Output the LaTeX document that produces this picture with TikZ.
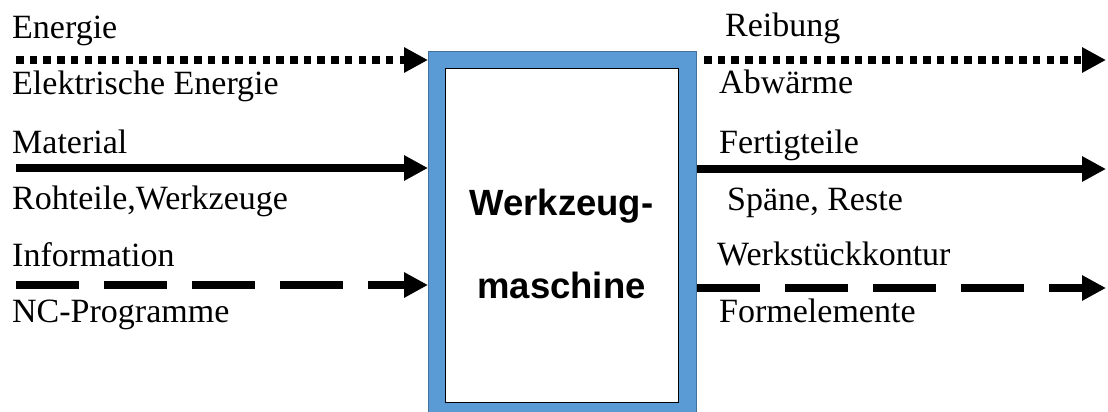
\documentclass[tikz,border=0pt]{standalone}
\usepackage{fontspec}
\setmainfont{Liberation Serif}
\newfontfamily\boxfont{Liberation Sans}
\usetikzlibrary{arrows.meta}
\definecolor{boxblue}{HTML}{5B9BD5}
\definecolor{boxedge}{HTML}{41719C}
\tikzset{
  lbl/.style={anchor=base west, inner sep=0pt, font=\fontsize{34}{37}\selectfont},
  flow/.style={line width=8pt, -{Triangle[length=24pt,width=24pt]}},
  dotflow/.style={flow, dash pattern=on 7.5pt off 6.2pt},
  dashflow/.style={flow, dash pattern=on 63pt off 25pt},
  boxtext/.style={anchor=base, inner sep=0pt, font=\boxfont\bfseries\fontsize{36.5}{40}\selectfont}
}
\begin{document}
\begin{tikzpicture}[x=1pt,y=-1pt]
\useasboundingbox (0,0) rectangle (1108,412);
% box
\node[draw=boxedge, line width=1pt, fill=boxblue, minimum width=268pt, minimum height=361pt, anchor=north west, inner sep=0pt] (box) at (428,51) {};
\node[draw=black, line width=1.3pt, fill=white, minimum width=233pt, minimum height=334pt, anchor=north west, inner sep=0pt] (inner) at (445,68) {};
\node[boxtext] (t1) at (561.5,215) {Werkzeug-};
\node[boxtext] (t2) at (561.5,298) {maschine};
% left labels
\node[lbl] (l1) at (12,39) {Energie};
\node[lbl] (l2) at (12,94) {Elektrische Energie};
\node[lbl] (l3) at (12,153) {Material};
\node[lbl] (l4) at (12,209) {Rohteile,Werkzeuge};
\node[lbl] (l5) at (12,266) {Information};
\node[lbl] (l6) at (12,322) {NC-Programme};
% right labels
\node[lbl] (r1) at (725,37) {Reibung};
\node[lbl] (r2) at (719,93) {Abwärme};
\node[lbl] (r3) at (719,153) {Fertigteile};
\node[lbl] (r4) at (727,210) {Späne, Reste};
\node[lbl] (r5) at (717,265) {Werkstückkontur};
\node[lbl] (r6) at (719,322) {Formelemente};
% coordinates
\coordinate (a1) at (16,60);
\coordinate (a2) at (16,168);
\coordinate (a3) at (16,285);
\coordinate (b1) at (1106,60);
\coordinate (b2) at (1106,169);
\coordinate (b3) at (1106,288);
% arrows
\draw[dotflow] (a1) -- (a1 -| box.west);
\draw[flow] (a2) -- (a2 -| box.west);
\draw[dashflow] (a3) -- (a3 -| box.west);
\draw[dotflow] (b1 -| box.east) ++(7,0) -- (b1);
\draw[flow] (b2 -| box.east) -- (b2);
\draw[dashflow] (b3 -| box.east) -- (b3);
\end{tikzpicture}
\end{document}
